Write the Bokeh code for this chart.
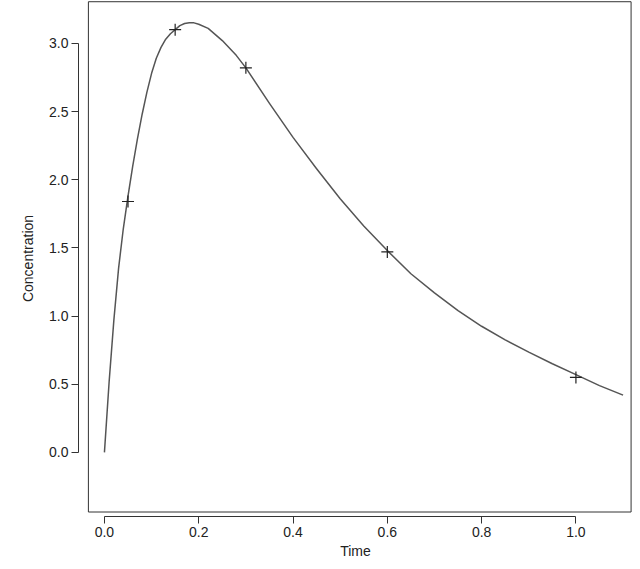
from bokeh.plotting import figure
from bokeh.models import Range1d, PrintfTickFormatter
from bokeh.embed import file_html
from bokeh.resources import INLINE

# observed samples
obs_time = [0.05, 0.15, 0.3, 0.6, 1.0]
obs_conc = [1.84, 3.10, 2.82, 1.47, 0.55]

# fitted curve
fit_time = [0.0, 0.01, 0.02, 0.03, 0.04, 0.05, 0.06, 0.07, 0.08, 0.09, 0.1, 0.11,
            0.12, 0.13, 0.14, 0.15, 0.16, 0.17, 0.18, 0.19, 0.2, 0.22, 0.25, 0.28,
            0.3, 0.35, 0.4, 0.45, 0.5, 0.55, 0.6, 0.65, 0.7, 0.75, 0.8, 0.85, 0.9,
            0.95, 1.0, 1.05, 1.1]
fit_conc = [0.0, 0.52, 0.97, 1.35, 1.64, 1.88, 2.1, 2.3, 2.48, 2.64, 2.78, 2.89,
            2.97, 3.03, 3.07, 3.10, 3.13, 3.145, 3.15, 3.15, 3.14, 3.11, 3.02, 2.91,
            2.82, 2.56, 2.31, 2.08, 1.86, 1.66, 1.48, 1.31, 1.17, 1.04, 0.925, 0.825,
            0.735, 0.65, 0.57, 0.49, 0.42]

p = figure(width=632, height=561, output_backend="svg", toolbar_location=None,
           x_range=Range1d(-0.055, 1.12), y_range=Range1d(-0.47, 3.314),
           min_border_left=78, min_border_right=0, min_border_top=0,
           min_border_bottom=30)
p.outline_line_color = None
p.grid.visible = False

# box around the data region
p.quad(left=-0.034, right=1.117, bottom=-0.437, top=3.305, fill_color=None,
       line_color="#333333", line_width=1)

p.line(fit_time, fit_conc, line_color="#555555", line_width=1.5, line_join="round")
p.scatter(obs_time, obs_conc, marker="cross", size=12, line_color="#222222",
          line_width=1.2)

p.xaxis.bounds = (0, 1)
p.yaxis.bounds = (0, 3)
p.xaxis.ticker = [0, 0.2, 0.4, 0.6, 0.8, 1.0]
p.yaxis.ticker = [0, 0.5, 1.0, 1.5, 2.0, 2.5, 3.0]
for ax in (p.xaxis, p.yaxis):
    ax.formatter = PrintfTickFormatter(format="%.1f")
    ax.minor_tick_line_color = None
    ax.major_tick_out = 7
    ax.major_tick_in = 0
    ax.major_label_standoff = 3
    ax.axis_line_color = "#333333"
    ax.major_tick_line_color = "#333333"
    ax.major_label_text_font = "Liberation Sans"
    ax.major_label_text_font_size = "14px"
    ax.major_label_text_color = "#222222"
    ax.axis_label_text_font = "Liberation Sans"
    ax.axis_label_text_font_size = "14px"
    ax.axis_label_text_font_style = "normal"
    ax.axis_label_text_color = "#222222"
    ax.axis_label_standoff = 3
p.yaxis.axis_label_standoff = 10
p.xaxis.axis_label = "Time"
p.yaxis.axis_label = "Concentration"
p.yaxis.major_label_orientation = "horizontal"

open("out.html", "w").write(file_html(p, INLINE))
